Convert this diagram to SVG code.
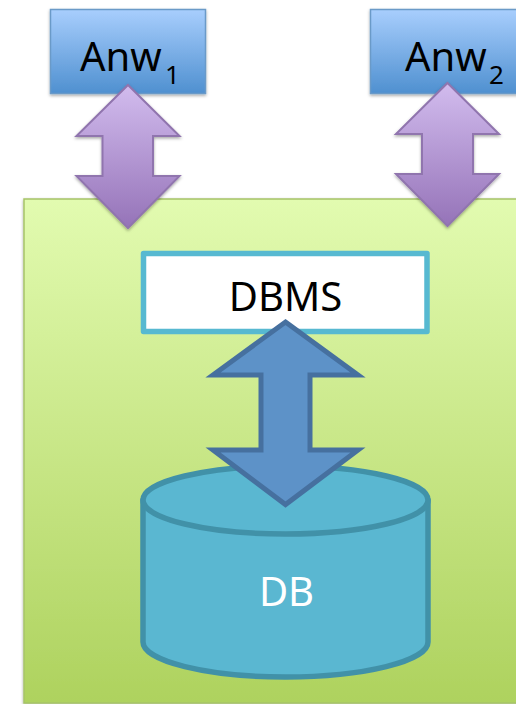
<svg xmlns="http://www.w3.org/2000/svg" width="516" height="704" viewBox="0 0 516 704">
<style>
.t{font-family:"Noto Sans","Open Sans",sans-serif;font-size:40px;fill:#000}
.s{font-family:"Noto Sans","Open Sans",sans-serif;font-size:26px;fill:#000}
.anw{fill:url(#gb);stroke:#6a9ac8;stroke-width:1.5;filter:url(#sh)}
.pur{fill:url(#gp);stroke:#9074ae;stroke-width:2;filter:url(#sh)}
</style>
<defs>
<linearGradient id="gb" x1="0" y1="0" x2="0" y2="1"><stop offset="0" stop-color="#a8cefd"/><stop offset="1" stop-color="#4f90d0"/></linearGradient>
<linearGradient id="gp" x1="0" y1="0" x2="0" y2="1"><stop offset="0" stop-color="#d2bcee"/><stop offset="1" stop-color="#9573b8"/></linearGradient>
<linearGradient id="gg" x1="0" y1="0" x2="0" y2="1"><stop offset="0" stop-color="#e2fbb0"/><stop offset="1" stop-color="#aed25e"/></linearGradient>
<filter id="sh" x="-15%" y="-15%" width="130%" height="130%"><feDropShadow dx="0" dy="1.5" stdDeviation="1.5" flood-color="#000" flood-opacity="0.35"/></filter>
</defs>
<rect width="516" height="704" fill="#fff"/>
<g id="system"><rect x="24" y="199" width="500" height="504" fill="url(#gg)" stroke="#a6c468" stroke-width="1.5" filter="url(#sh)"/></g>
<g id="anw1"><rect class="anw" x="50.500" y="9.500" width="155" height="84"/><text class="t" x="80" y="71">Anw</text><text class="s" x="165" y="84">1</text></g>
<g id="anw2"><rect class="anw" x="370.500" y="9.500" width="155" height="84"/><text class="t" x="405" y="71">Anw</text><text class="s" x="489" y="84">2</text></g>
<g id="dbms"><rect x="143.500" y="253.500" width="283.500" height="78" fill="#fff" stroke="#57b9d1" stroke-width="5.500" stroke-linejoin="round"/><text class="t" x="285.500" y="311" text-anchor="middle">DBMS</text></g>
<g id="db"><path d="M143 500V642C143 661 207 677 285.500 677S428 661 428 642V500Z" fill="#5ab7d1" stroke="#4191a8" stroke-width="5.500" stroke-linejoin="round"/><ellipse cx="285.500" cy="500" rx="142.500" ry="34" fill="#5ab7d1" stroke="#4191a8" stroke-width="5.500"/><text class="t" x="286.500" y="606" text-anchor="middle" style="fill:#fff">DB</text></g>
<g id="connectors">
<path class="pur" d="M128 85L179.500 136H153V176H179.500L128 228L76.500 176H102.500V136H76.500Z"/>
<path class="pur" d="M447.500 83L499 134H473V174H499L447.500 226L396 174H422V134H396Z"/>
<path d="M285.500 322L358 375H310V450H358L285.500 504.500L213 450H261V375H213Z" fill="#5d92c8" stroke="#46709f" stroke-width="5"/>
</g>
</svg>
